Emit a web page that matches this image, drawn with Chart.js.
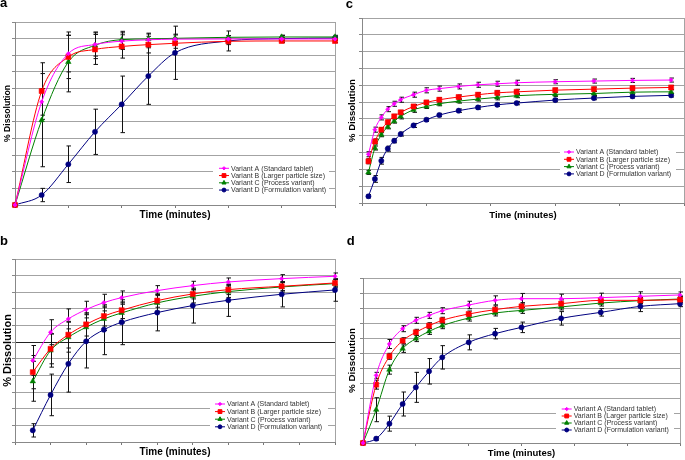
<!DOCTYPE html>
<html>
<head>
<meta charset="utf-8">
<script src="https://cdn.jsdelivr.net/npm/chart.js@4.4.0/dist/chart.umd.min.js"></script>
<style>
  html, body { margin: 0; padding: 0; background: #fff; }
  #figure { position: relative; width: 685px; height: 460px; }
  .panel { position: absolute; width: 342px; height: 230px; }
</style>
</head>
<body>
<div id="figure">
  <div class="panel" style="left:0;top:0"><canvas id="chartA" width="342" height="230"></canvas></div>
  <div class="panel" style="left:0;top:230px"><canvas id="chartB" width="342" height="230"></canvas></div>
  <div class="panel" style="left:343px;top:0"><canvas id="chartC" width="342" height="230"></canvas></div>
  <div class="panel" style="left:343px;top:230px"><canvas id="chartD" width="342" height="230"></canvas></div>
</div>
<script>
const variantLabels = [
  "Variant A (Standard tablet)",
  "Variant B (Larger particle size)",
  "Variant C (Process variant)",
  "Variant D (Formulation variant)",
];

// panel a
const timesA = [0, 5, 10, 15, 20, 25, 30, 40, 50, 60];
const aVariantA = [0, 62, 91, 96.5, 98.5, 99.3, 99.7, 99.8, 99.8, 99.8];
const aVariantB = [0, 68.5, 89, 93.5, 95.3, 96.4, 97.2, 98.4, 98.6, 98.6];
const aVariantC = [0, 51, 86, 96, 99.4, 99.8, 100.2, 100.8, 101, 101];
const aVariantD = [0, 6, 24.5, 44, 60.5, 77.5, 91.5, 98.6, 100, 100.4];
const aErrA = [0, 8, 11, 7, 5, 4, 3, 2, 1, 1];
const aErrB = [0, 17, 13, 9, 7, 5, 3, 2, 1, 1];
const aErrC = [0, 28, 18, 8, 5, 3, 2, 1, 1, 1];
const aErrD = [0, 4, 11, 13.6, 17, 17, 16, 6, 2, 1];

// panel b
const timesB = [5, 10, 15, 20, 25, 30, 40, 50, 60, 75, 90];
const bVariantA = [49, 66, 74, 79.6, 83.8, 86.8, 91, 94, 96.2, 98.2, 99.6];
const bVariantB = [42, 56, 64.5, 70.7, 75.7, 79.2, 85, 89, 91.6, 93.6, 95.6];
const bVariantC = [36.5, 55, 63, 69, 74, 77.6, 83.6, 87.6, 90.4, 93.2, 95.2];
const bVariantD = [7, 28.3, 47, 60.5, 67.5, 72, 77.8, 82, 85.2, 88.8, 91.4];
const bErrA = [9, 7.5, 6, 5, 5, 4, 3, 2.6, 2.4, 2.4, 2];
const bErrB = [10, 9, 8, 7, 6, 5, 4, 3, 3, 2.5, 2];
const bErrC = [12, 10, 9, 8, 7, 6, 5, 4, 3.5, 3, 2.5];
const bErrD = [4, 12.5, 17, 16, 15, 13.5, 11, 10.5, 9.7, 7.6, 6.8];

// panel c
const timesC = [1, 2, 3, 4, 5, 6, 8, 10, 12, 15, 18, 21, 24, 30, 36, 42, 48];
const cVariantA = [29, 43.6, 50.9, 55.8, 59, 61.4, 64.4, 67, 68, 69.3, 70.3, 70.9, 71.5, 72.1, 72.5, 72.9, 73.1];
const cVariantB = [24.8, 36.6, 43.6, 48.1, 51.5, 53.9, 57.4, 59.8, 61.4, 63, 64.4, 65.5, 66.1, 67.1, 67.7, 68.3, 68.7];
const cVariantC = [18.2, 32.7, 40.6, 45.3, 48.7, 51.5, 55.4, 57.4, 59, 60.6, 61.8, 62.8, 63.8, 64.6, 65.1, 65.9, 66.1];
const cVariantD = [4, 14.3, 25.1, 32.3, 37, 41, 46.1, 49.5, 52.3, 54.9, 56.8, 58.4, 59.4, 61.2, 62.4, 63.4, 64];
const cErrA = [1.5, 1.5, 1.5, 1.5, 1.5, 1.5, 1.5, 1.5, 1.5, 1.5, 1.5, 1.5, 1.5, 1.2, 1.2, 1.2, 1.2];
const cErrB = [1.5, 1.5, 1.2, 1.2, 1.2, 1.2, 1.2, 1.2, 1.2, 1.2, 1.2, 1.2, 1.5, 1.2, 1.2, 1.2, 1.2];
const cErrC = [1.2, 1.2, 1.2, 1.2, 1.2, 1.5, 1.5, 1.2, 1.2, 1.2, 1.2, 1.5, 1.2, 1.2, 1.2, 1.2, 1.2];
const cErrD = [1, 2, 2, 1.5, 1.2, 1.2, 1.2, 1, 1, 1, 1, 1, 1, 1, 1, 1, 1];

// panel d
const timesD = [0, 5, 10, 15, 20, 25, 30, 40, 50, 60, 75, 90, 105, 120];
const dVariantA = [0, 45.1, 66, 76.2, 81.8, 85.1, 88.2, 92, 95.1, 96.2, 96.2, 96.9, 97.8, 98.7];
const dVariantB = [0, 38.9, 57.8, 68.2, 73.8, 78.2, 81.8, 86, 88.9, 91.1, 92.9, 95.1, 95.1, 95.6];
const dVariantC = [0, 22.2, 48.9, 62.9, 69.6, 74.4, 78.2, 83.3, 86.7, 88.4, 90.7, 93.3, 94.9, 96];
const dVariantD = [0, 2.9, 12.9, 26, 37.1, 47.8, 57.1, 67.1, 72.9, 77.1, 83.1, 87.1, 91.1, 92.9];
const dErrA = [0, 2, 3, 2, 2, 2, 2, 2.5, 3, 3.5, 3, 3, 3, 2];
const dErrB = [0, 3, 2, 2, 2, 2, 2, 2, 2.5, 2.5, 2.5, 2, 2, 2];
const dErrC = [0, 8, 3, 2.5, 2, 2, 2, 2, 2, 2, 2, 2, 2, 2];
const dErrD = [0, 1, 5, 8, 10, 8.5, 7.8, 5, 3.5, 3.5, 4.5, 2.5, 3.5, 2];

const variantStyles = [
  { color: "#ff00ff", pointStyle: "rectRot", radius: 2.2 },
  { color: "#ff0000", pointStyle: "rect", radius: 3.6 },
  { color: "#008000", pointStyle: "triangle", radius: 3.2 },
  { color: "#000080", pointStyle: "circle", radius: 2.6 },
];

const GRID = "#a3a3a3";
const FONT = '"Liberation Sans", Arial, sans-serif';

// legend box drawn inside the plot, over the gridlines
const insideLegend = {
  id: "insideLegend",
  beforeDatasetsDraw(chart, args, opts) {
    const { ctx } = chart;
    ctx.save();
    ctx.fillStyle = "#fff";
    ctx.fillRect(...opts.box);
    ctx.font = `7px ${FONT}`;
    ctx.textBaseline = "middle";
    chart.data.datasets.forEach((ds, i) => {
      const y = opts.y + i * opts.rowH;
      ctx.strokeStyle = ds.borderColor;
      ctx.fillStyle = ds.borderColor;
      ctx.lineWidth = 1;
      ctx.beginPath();
      ctx.moveTo(opts.x, y);
      ctx.lineTo(opts.x + 10, y);
      ctx.stroke();
      Chart.helpers.drawPoint(
        ctx,
        { pointStyle: ds.pointStyle, radius: ds.pointRadius * 0.75, borderWidth: 1 },
        opts.x + 5,
        y,
      );
      ctx.fillStyle = "#333";
      ctx.fillText(ds.label, opts.x + 12, y + 0.5);
    });
    ctx.restore();
  },
};

const errorBars = {
  id: "errorBars",
  beforeDatasetsDraw(chart) {
    const { ctx } = chart;
    const yScale = chart.scales.y;
    ctx.save();
    ctx.strokeStyle = "#111";
    ctx.lineWidth = 1;
    chart.data.datasets.forEach((ds, di) => {
      if (!ds.errors) return;
      chart.getDatasetMeta(di).data.forEach((pt, i) => {
        const err = ds.errors[i];
        if (!err) return;
        const v = ds.data[i].y;
        const top = yScale.getPixelForValue(v + err);
        const bot = yScale.getPixelForValue(v - err);
        const x = Math.round(pt.x) + 0.5;
        ctx.beginPath();
        ctx.moveTo(x, top);
        ctx.lineTo(x, bot);
        ctx.moveTo(x - 2, top);
        ctx.lineTo(x + 2.5, top);
        ctx.moveTo(x - 2, bot);
        ctx.lineTo(x + 2.5, bot);
        ctx.stroke();
      });
    });
    ctx.restore();
  },
};

const panelLetter = {
  id: "panelLetter",
  afterDraw(chart, args, opts) {
    const { ctx } = chart;
    ctx.save();
    ctx.font = `bold 13px ${FONT}`;
    ctx.fillStyle = "#000";
    ctx.textBaseline = "alphabetic";
    ctx.fillText(opts.text, opts.x, opts.y);
    ctx.restore();
  },
};

const panels = [
  {
    id: "chartA", letter: ["a", 0, 7], times: timesA,
    series: [aVariantA, aVariantB, aVariantC, aVariantD],
    errors: [aErrA, aErrB, aErrC, aErrD],
    xMax: 60, xStep: 10, padTop: 22, padRight: 7, yAxisW: 15, xAxisH: 25,
    yTitle: { size: 8.6, pad: 2.2 }, xTitle: { size: 10, pad: 9 },
    legend: { box: [213, 163, 116, 34], x: 219, y: 168.3, rowH: 7.25 },
  },
  {
    id: "chartB", letter: ["b", 0, 15], times: timesB,
    series: [bVariantA, bVariantB, bVariantC, bVariantD],
    errors: [bErrA, bErrB, bErrC, bErrD],
    xMax: 90, xStep: 10, padTop: 29, padRight: 7, yAxisW: 15, xAxisH: 18,
    yTitle: { size: 11, pad: 1.4 }, xTitle: { size: 10, pad: 2 },
    legend: { box: [210, 168, 118, 35], x: 215, y: 174, rowH: 7.6 },
    darkGrid: 60,
  },
  {
    id: "chartC", letter: ["c", 2.7, 8.3], times: timesC,
    series: [cVariantA, cVariantB, cVariantC, cVariantD],
    errors: [cErrA, cErrB, cErrC, cErrD],
    xMax: 50, xStep: 10, padTop: 18, padRight: 1, yAxisW: 19, xAxisH: 27,
    yTitle: { size: 9.5, pad: 3.3 }, xTitle: { size: 9.5, pad: 9.3 },
    legend: { box: [217, 145, 116, 35], x: 221, y: 152, rowH: 7.3 },
  },
  {
    id: "chartD", letter: ["d", 3.7, 15], times: timesD,
    series: [dVariantA, dVariantB, dVariantC, dVariantD],
    errors: [dErrA, dErrB, dErrC, dErrD],
    xMax: 120, xStep: 20, padTop: 48, padRight: 5, yAxisW: 20, xAxisH: 17,
    yTitle: { size: 9.8, pad: 3.1 }, xTitle: { size: 9.5, pad: 1.3 },
    legend: { box: [213, 174, 118, 31], x: 218.7, y: 179, rowH: 7 },
  },
];

function buildChart(p) {
  const datasets = p.series.map((values, i) => {
    const st = variantStyles[i];
    return {
      label: variantLabels[i],
      data: p.times.map((t, j) => ({ x: t, y: values[j] })),
      errors: p.errors[i],
      borderColor: st.color,
      backgroundColor: st.color,
      pointBackgroundColor: st.color,
      pointBorderColor: st.color,
      pointStyle: st.pointStyle,
      pointRadius: st.radius,
      pointBorderWidth: 0.5,
      borderWidth: 1,
      tension: 0.4,
      cubicInterpolationMode: "monotone",
      clip: false,
    };
  });

  return new Chart(document.getElementById(p.id), {
    type: "line",
    data: { datasets },
    options: {
      responsive: false,
      animation: false,
      events: [],
      layout: {
        autoPadding: false,
        padding: { top: p.padTop, right: p.padRight, left: 0, bottom: 0 },
      },
      scales: {
        x: {
          type: "linear",
          min: 0,
          max: p.xMax,
          ticks: { stepSize: p.xStep, display: false },
          grid: {
            color: (c) => (c.tick && c.tick.value === p.xMax ? GRID : "rgba(0,0,0,0)"),
            tickColor: "#777",
            tickLength: 3,
          },
          border: { color: "#888" },
          title: {
            display: true,
            text: "Time (minutes)",
            color: "#000",
            font: { family: FONT, size: p.xTitle.size, weight: "bold" },
            padding: { top: 0, bottom: p.xTitle.pad },
          },
          afterFit: (scale) => { scale.height = p.xAxisH; },
        },
        y: {
          min: 0,
          max: 110,
          ticks: { stepSize: 10, display: false },
          grid: {
            color: (c) => (p.darkGrid && c.tick && c.tick.value === p.darkGrid ? "#222" : GRID),
            tickColor: "#888",
            tickLength: 3,
          },
          border: { color: "#888" },
          title: {
            display: true,
            text: "% Dissolution",
            color: "#000",
            font: { family: FONT, size: p.yTitle.size, weight: "bold" },
            padding: { top: p.yTitle.pad, bottom: 0 },
          },
          afterFit: (scale) => { scale.width = p.yAxisW; },
        },
      },
      plugins: {
        legend: { display: false },
        tooltip: { enabled: false },
        insideLegend: p.legend,
        panelLetter: { text: p.letter[0], x: p.letter[1], y: p.letter[2] },
      },
    },
    plugins: [insideLegend, errorBars, panelLetter],
  });
}

panels.forEach(buildChart);
</script>
</body>
</html>
